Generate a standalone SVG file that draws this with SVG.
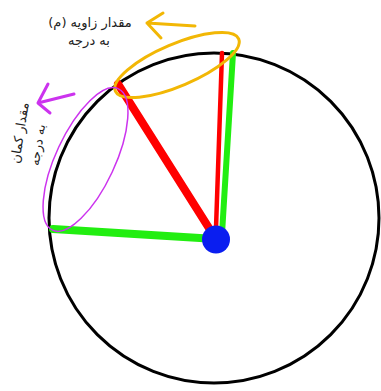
<svg xmlns="http://www.w3.org/2000/svg" width="381" height="391" viewBox="0 0 381 391">
<style>
.lbl{font-family:"DejaVu Sans","Noto Sans",sans-serif;font-size:13px;fill:#222;text-anchor:middle}
.red{stroke:#ff0000;fill:none;stroke-linecap:round}
.grn{stroke:#22ee11;fill:none;stroke-linecap:round}
.orange{stroke:#f2b705;fill:none;stroke-width:3;stroke-linecap:round;stroke-linejoin:round}
.mag{stroke:#cc33ee;fill:none}
</style>
<rect width="381" height="391" fill="#fff"/>
<g id="circle"><circle cx="214" cy="218" r="165" fill="none" stroke="#000" stroke-width="3"/></g>
<g id="connectors">
<line class="grn" x1="53" y1="229" x2="216" y2="239" stroke-width="8"/>
<line class="grn" x1="233" y1="53" x2="222" y2="234" stroke-width="6"/>
<line class="red" x1="118" y1="84" x2="214" y2="236" stroke-width="8"/>
<line class="red" x1="222" y1="53" x2="216" y2="228" stroke-width="4.5"/>
</g>
<g id="center"><ellipse cx="216" cy="239.5" rx="14" ry="14" fill="#0a1ef0"/></g>
<g id="angle-ellipse"><ellipse cx="177" cy="65" rx="67" ry="21" transform="rotate(-23 177 65)" class="orange"/></g>
<g id="arc-ellipse"><ellipse cx="85.5" cy="159.5" rx="78" ry="29.5" transform="rotate(-65 85.5 159.5)" class="mag" stroke-width="1.5"/></g>
<g id="angle-label">
<path class="orange" d="M195 26 L147 23 M163 13 L147 23 L161 38"/>
<text class="lbl" x="90" y="27" direction="rtl">مقدار زاویه (م)</text>
<text class="lbl" x="89" y="45" direction="rtl">به درجه</text>
</g>
<g id="arc-label">
<path class="mag" stroke-width="3" stroke-linecap="round" stroke-linejoin="round" d="M74 94 L38 103 M48 84 L38 103 L50 113"/>
<text class="lbl" transform="translate(20 133) rotate(-81)" direction="rtl" y="4">مقدار کمان</text>
<text class="lbl" transform="translate(38 145) rotate(-81)" direction="rtl" y="4">به درجه</text>
</g>
</svg>
